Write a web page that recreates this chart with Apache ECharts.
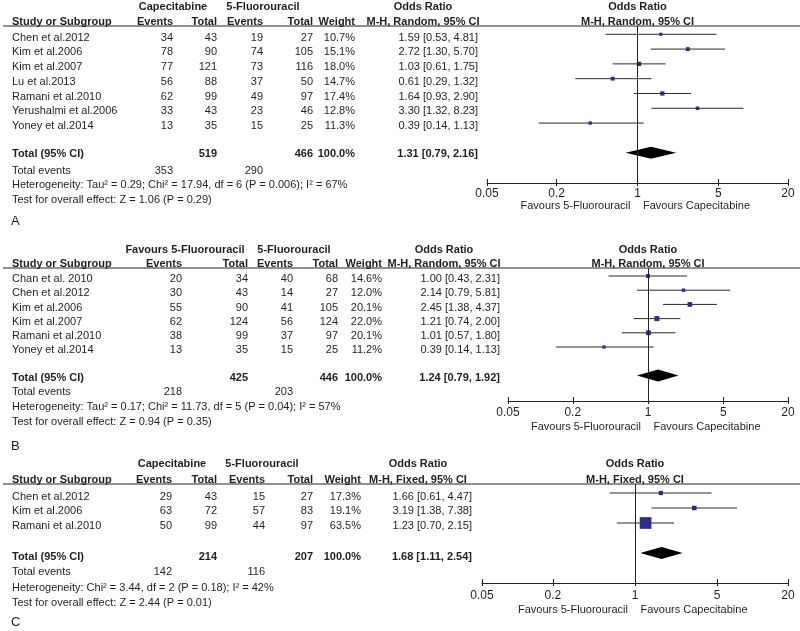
<!DOCTYPE html>
<html>
<head>
<meta charset="utf-8">
<script src="https://cdn.jsdelivr.net/npm/echarts@6/dist/echarts.min.js"></script>
<style>
html,body{margin:0;padding:0;background:#fff;}
#chart{width:800px;height:631px;}
</style>
</head>
<body>
<div id="chart"></div>
<script>
const FONT = '"Liberation Sans", Arial, Helvetica, sans-serif';
const TICKS = [0.05, 0.2, 1, 5, 20];

// ---------- Panel A ----------
const studiesA = ['Chen et al.2012','Kim et al.2006','Kim et al.2007','Lu et al.2013','Ramani et al.2010','Yerushalmi et al.2006','Yoney et al.2014'];
const capEventsA = [34,78,77,56,62,33,13];
const capTotalA  = [43,90,121,88,99,43,35];
const fuEventsA  = [19,74,73,37,49,23,15];
const fuTotalA   = [27,105,116,50,97,46,25];
const weightA    = [10.7,15.1,18.0,14.7,17.4,12.8,11.3];
const orA        = [1.59,2.72,1.03,0.61,1.64,3.30,0.39];
const loA        = [0.53,1.30,0.61,0.29,0.93,1.32,0.14];
const hiA        = [4.81,5.70,1.75,1.32,2.90,8.23,1.13];
const pooledA    = [1.31,0.79,2.16];
const totalsA    = [519,466,353,290];
const hetA = 'Heterogeneity: Tau\u00b2 = 0.29; Chi\u00b2 = 17.94, df = 6 (P = 0.006); I\u00b2 = 67%';
const testA = 'Test for overall effect: Z = 1.06 (P = 0.29)';

// ---------- Panel B ----------
const studiesB = ['Chan et al. 2010','Chen et al.2012','Kim et al.2006','Kim et al.2007','Ramani et al.2010','Yoney et al.2014'];
const capEventsB = [20,30,55,62,38,13];
const capTotalB  = [34,43,90,124,99,35];
const fuEventsB  = [40,14,41,56,37,15];
const fuTotalB   = [68,27,105,124,97,25];
const weightB    = [14.6,12.0,20.1,22.0,20.1,11.2];
const orB        = [1.00,2.14,2.45,1.21,1.01,0.39];
const loB        = [0.43,0.79,1.38,0.74,0.57,0.14];
const hiB        = [2.31,5.81,4.37,2.00,1.80,1.13];
const pooledB    = [1.24,0.79,1.92];
const totalsB    = [425,446,218,203];
const hetB = 'Heterogeneity: Tau\u00b2 = 0.17; Chi\u00b2 = 11.73, df = 5 (P = 0.04); I\u00b2 = 57%';
const testB = 'Test for overall effect: Z = 0.94 (P = 0.35)';

// ---------- Panel C ----------
const studiesC = ['Chen et al.2012','Kim et al.2006','Ramani et al.2010'];
const capEventsC = [29,63,50];
const capTotalC  = [43,72,99];
const fuEventsC  = [15,57,44];
const fuTotalC   = [27,83,97];
const weightC    = [17.3,19.1,63.5];
const orC        = [1.66,3.19,1.23];
const loC        = [0.61,1.38,0.70];
const hiC        = [4.47,7.38,2.15];
const pooledC    = [1.68,1.11,2.54];
const totalsC    = [214,207,142,116];
const hetC = 'Heterogeneity: Chi\u00b2 = 3.44, df = 2 (P = 0.18); I\u00b2 = 42%';
const testC = 'Test for overall effect: Z = 2.44 (P = 0.01)';

const panels = [
  { letter:'A', studies:studiesA, e1:capEventsA, t1:capTotalA, e2:fuEventsA, t2:fuTotalA, w:weightA, or:orA, lo:loA, hi:hiA, pooled:pooledA, totals:totalsA, het:hetA, test:testA,
    g1:'Capecitabine', g2:'5-Fluorouracil', method:'M-H, Random, 95% CI',
    L:{ grid:{left:487,right:12,top:26,height:157}, yMin:-0.56, yMax:10.05, margin:5,
        h1:7, h2:22, row0:37.7, step:14.7, total:154.3, events:170.7, hetY:185, testY:199.5, letterY:221, fav:205.5,
        cName:12, cE1:173, cT1:217, cE2:263, cT2:313, cW:355, cOR:478, cORh:423, cG1:173, cG2:263 } },
  { letter:'B', studies:studiesB, e1:capEventsB, t1:capTotalB, e2:fuEventsB, t2:fuTotalB, w:weightB, or:orB, lo:loB, hi:hiB, pooled:pooledB, totals:totalsB, het:hetB, test:testB,
    g1:'Favours 5-Fluorouracil', g2:'5-Fluorouracil', method:'M-H, Random, 95% CI',
    L:{ grid:{left:508,right:12,top:268,height:133}, yMin:-0.563, yMax:8.80, margin:6,
        h1:250, h2:264, row0:279, step:14.25, total:377.7, events:392.3, hetY:407.3, testY:421.7, letterY:446, fav:426.5,
        cName:12, cE1:182, cT1:248, cE2:293, cT2:338, cW:382, cOR:500, cORh:444, cG1:185, cG2:294 } },
  { letter:'C', studies:studiesC, e1:capEventsC, t1:capTotalC, e2:fuEventsC, t2:fuTotalC, w:weightC, or:orC, lo:loC, hi:hiC, pooled:pooledC, totals:totalsC, het:hetC, test:testC,
    g1:'Capecitabine', g2:'5-Fluorouracil', method:'M-H, Fixed, 95% CI',
    L:{ grid:{left:482,right:12,top:484,height:99}, yMin:-0.6, yMax:6, margin:7,
        h1:464, h2:480, row0:496.7, step:14.7, total:556.7, events:572.3, hetY:588.3, testY:603.3, letterY:622.7, fav:610,
        cName:12, cE1:172, cT1:217, cE2:265, cT2:313, cW:361, cOR:472, cORh:418, cG1:172, cG2:262 } }
];

const TXT = '#231f20';
const MARK = '#2b2b96';
const LMIN = Math.log10(0.05), LMAX = Math.log10(20);
const fmtTick = v => { const t = TICKS.find(t => Math.abs(Math.log10(t) - v) < 1e-6); return t === undefined ? '' : String(t); };
const ciText = (o,l,h) => o.toFixed(2) + ' [' + l.toFixed(2) + ', ' + h.toFixed(2) + ']';

const chart = echarts.init(document.getElementById('chart'), null, {renderer:'canvas'});

const grid = [], xAxis = [], yAxis = [], series = [];
panels.forEach((p, i) => {
  grid.push(Object.assign({containLabel:false}, p.L.grid));
  // data axis (log)
  xAxis.push({ type:'log', logBase:10, min:0.05, max:20, gridIndex:i, position:'bottom',
    axisLine:{show:true, onZero:false, lineStyle:{color:'#222', width:1}}, axisTick:{show:false}, axisLabel:{show:false}, splitLine:{show:false} });
  // tick/label axis (outside ticks)
  xAxis.push({ type:'value', min:LMIN, max:LMAX, gridIndex:i, position:'bottom', offset:0,
    axisLine:{show:false, onZero:false}, splitLine:{show:false},
    axisTick:{show:true, length:3, customValues:TICKS.map(Math.log10), lineStyle:{color:'#222'}},
    axisLabel:{show:true, customValues:TICKS.map(Math.log10), formatter:fmtTick, margin:p.L.margin, color:TXT, fontSize:12, fontFamily:FONT} });
  // inside ticks
  xAxis.push({ type:'value', min:LMIN, max:LMAX, gridIndex:i, position:'bottom', offset:0,
    axisLine:{show:false, onZero:false}, splitLine:{show:false}, axisLabel:{show:false},
    axisTick:{show:true, inside:true, length:4, customValues:TICKS.map(Math.log10), lineStyle:{color:'#222'}} });
  yAxis.push({ type:'value', inverse:true, min:p.L.yMin, max:p.L.yMax, gridIndex:i, show:false });

  const n = p.studies.length;
  // CI lines
  series.push({ type:'custom', xAxisIndex:3*i, yAxisIndex:i,
    data: p.studies.map((s,k) => [p.lo[k], p.hi[k], k]),
    encode:{x:[0,1], y:2},
    renderItem:(params, api) => {
      const a = api.coord([api.value(0), api.value(2)]);
      const b = api.coord([api.value(1), api.value(2)]);
      return {type:'line', shape:{x1:a[0], y1:a[1], x2:b[0], y2:b[1]}, style:{stroke:'#2a2a2a', lineWidth:1}};
    },
    markLine:{ silent:true, symbol:['none','none'], label:{show:false}, animation:false,
      lineStyle:{color:'#222', type:'solid', width:1}, data:[{xAxis:1}] },
    animation:false, z:2 });
  // weight squares
  series.push({ type:'scatter', xAxisIndex:3*i, yAxisIndex:i, symbol:'rect',
    data: p.studies.map((s,k) => [p.or[k], k, p.w[k]]),
    symbolSize: v => 1.5 + 0.16 * v[2],
    itemStyle:{color:MARK, opacity:1}, animation:false, z:3 });
  // pooled diamond
  series.push({ type:'custom', xAxisIndex:3*i, yAxisIndex:i,
    data: [[p.pooled[0], p.pooled[1], p.pooled[2], n + 1]],
    encode:{x:[0,1,2], y:3},
    renderItem:(params, api) => {
      const r = api.value(3);
      const c = api.coord([api.value(0), r]);
      const l = api.coord([api.value(1), r]);
      const h = api.coord([api.value(2), r]);
      return {type:'polygon', shape:{points:[[l[0],c[1]],[c[0],c[1]-6],[h[0],c[1]],[c[0],c[1]+6]]}, style:{fill:'#000'}};
    },
    animation:false, z:3 });
});

chart.setOption({ animation:false, grid, xAxis, yAxis, series });

// ---------- table text ----------
const graphic = [];
function txt(x, y, s, align, bold, size) {
  graphic.push({ type:'text', x:x, y:y, silent:true,
    style:{ text:s, fill:TXT, font:(bold ? 'bold ' : '') + (size || 11) + 'px ' + FONT,
      textAlign:align, textVerticalAlign:'middle', align:align, verticalAlign:'middle' } });
}
panels.forEach((p, i) => {
  const L = p.L;
  const x1 = chart.convertToPixel({xAxisIndex:3*i}, 1);
  // headers
  txt(L.cG1, L.h1, p.g1, 'center', true);
  txt(L.cG2, L.h1, p.g2, 'center', true);
  txt(L.cORh, L.h1, 'Odds Ratio', 'center', true);
  txt(x1, L.h1, 'Odds Ratio', 'center', true);
  txt(L.cName, L.h2, 'Study or Subgroup', 'left', true);
  txt(L.cE1, L.h2, 'Events', 'right', true);
  txt(L.cT1, L.h2, 'Total', 'right', true);
  txt(L.cE2, L.h2, 'Events', 'right', true);
  txt(L.cT2, L.h2, 'Total', 'right', true);
  txt(L.cW, L.h2, 'Weight', 'right', true);
  txt(L.cORh, L.h2, p.method, 'center', true);
  txt(x1, L.h2, p.method, 'center', true);
  graphic.push({ type:'line', silent:true, shape:{x1:3, y1:L.grid.top, x2:800, y2:L.grid.top}, style:{stroke:'#222', lineWidth:1} });
  // rows
  p.studies.forEach((s, k) => {
    const y = L.row0 + k * L.step;
    txt(L.cName, y, s, 'left');
    txt(L.cE1, y, String(p.e1[k]), 'right');
    txt(L.cT1, y, String(p.t1[k]), 'right');
    txt(L.cE2, y, String(p.e2[k]), 'right');
    txt(L.cT2, y, String(p.t2[k]), 'right');
    txt(L.cW, y, p.w[k].toFixed(1) + '%', 'right');
    txt(L.cOR, y, ciText(p.or[k], p.lo[k], p.hi[k]), 'right');
  });
  // totals
  txt(L.cName, L.total, 'Total (95% CI)', 'left', true);
  txt(L.cT1, L.total, String(p.totals[0]), 'right', true);
  txt(L.cT2, L.total, String(p.totals[1]), 'right', true);
  txt(L.cW, L.total, '100.0%', 'right', true);
  txt(L.cOR, L.total, ciText(p.pooled[0], p.pooled[1], p.pooled[2]), 'right', true);
  txt(L.cName, L.events, 'Total events', 'left');
  txt(L.cE1, L.events, String(p.totals[2]), 'right');
  txt(L.cE2, L.events, String(p.totals[3]), 'right');
  txt(L.cName, L.hetY, p.het, 'left');
  txt(L.cName, L.testY, p.test, 'left');
  txt(L.cName - 1, L.letterY, p.letter, 'left', false, 13);
  // favours
  txt(x1 - 7, L.fav, 'Favours 5-Fluorouracil', 'right');
  txt(x1 + 5.5, L.fav, 'Favours Capecitabine', 'left');
});
chart.setOption({ graphic });
</script>
</body>
</html>
